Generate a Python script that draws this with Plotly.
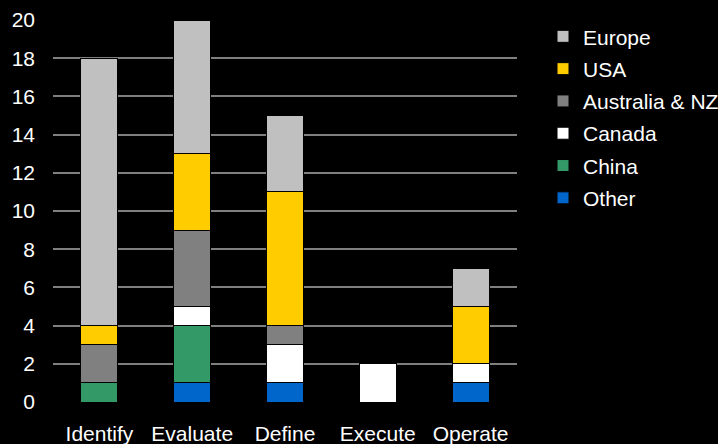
import plotly.graph_objects as go

stages = ["Identify", "Evaluate", "Define", "Execute", "Operate"]

# Stack order from the bottom of each bar upward
regions = ["Other", "China", "Canada", "Australia & NZ", "USA", "Europe"]
other = [0, 1, 1, 0, 1]
china = [1, 3, 0, 0, 0]
canada = [0, 1, 2, 2, 1]
australia_nz = [2, 4, 1, 0, 0]
usa = [1, 4, 7, 0, 3]
europe = [14, 7, 4, 0, 2]

series = [other, china, canada, australia_nz, usa, europe]
colors = ["#0066CC", "#339966", "#FFFFFF", "#808080", "#FFCC00", "#C0C0C0"]

y_ticks = list(range(0, 21, 2))

W, H = 718, 444
left, plot_right = 53, 517
fig_w = W - left

fig = go.Figure()
for i, (name, vals, col) in enumerate(zip(regions, series, colors)):
    fig.add_trace(go.Bar(
        x=stages, y=vals, name=name,
        marker=dict(color=col, line=dict(color="#000000", width=1)),
        legendgroup=name,
        legendrank=len(regions) - i,
    ))

font = "Liberation Sans, Arial, sans-serif"
fig.update_layout(
    barmode="stack",
    bargap=0.6,
    width=W, height=H,
    margin=dict(l=left, r=0, t=20, b=42, autoexpand=False),
    paper_bgcolor="#000000",
    plot_bgcolor="#000000",
    font=dict(family=font, size=21, color="#FFFFFF"),
    legend=dict(
        traceorder="grouped",
        tracegroupgap=2,
        x=(543 - left) / fig_w, xanchor="left",
        y=1.01, yanchor="top",
        font=dict(family=font, size=21, color="#FFFFFF"),
        bgcolor="rgba(0,0,0,0)",
    ),
    xaxis=dict(
        domain=[0, (plot_right - left) / fig_w],
        showgrid=False, zeroline=False, showline=False,
        ticklabelstandoff=17,
        tickfont=dict(family=font, size=21, color="#FFFFFF"),
    ),
    yaxis=dict(
        range=[0, 20], tickvals=y_ticks,
        showgrid=True, gridcolor="#7F7F7F", gridwidth=1.5,
        zeroline=False, showline=False,
        ticklabelstandoff=17,
        tickfont=dict(family=font, size=21, color="#FFFFFF"),
    ),
)

fig.write_html("out.html")
